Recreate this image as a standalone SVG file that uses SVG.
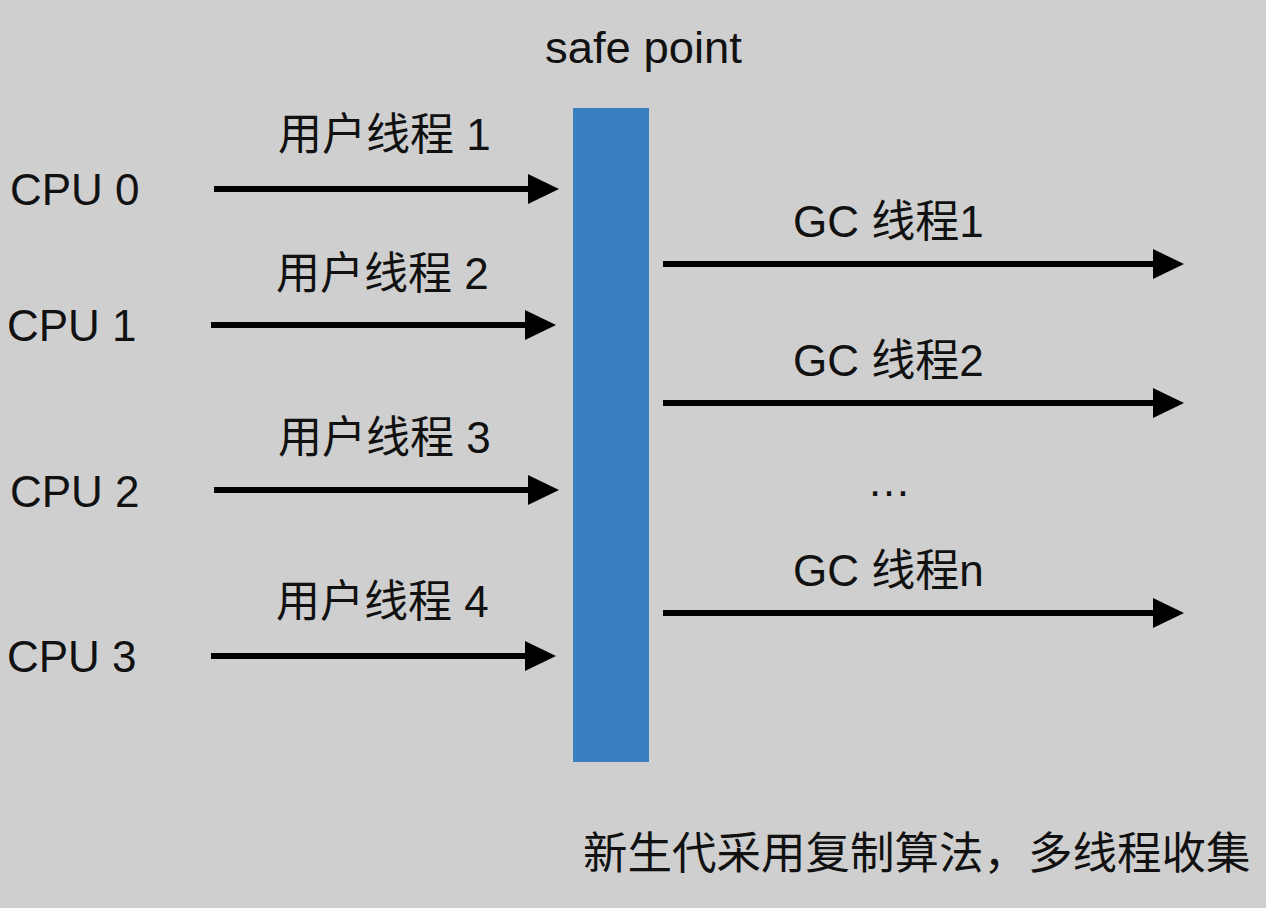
<svg xmlns="http://www.w3.org/2000/svg" width="1266" height="908" viewBox="0 0 1266 908">
<style>
.t{font-family:"Liberation Sans","Noto Sans CJK SC",sans-serif;font-size:44px;fill:#111}
.b{font-size:44.5px}
.c{stroke:#000;stroke-width:6;fill:none;marker-end:url(#ah)}
</style>
<defs>
<marker id="ah" markerUnits="userSpaceOnUse" markerWidth="32" markerHeight="32" refX="2" refY="15" orient="auto">
<path d="M0,0 L31,15 L0,30 Z" fill="#000"/>
</marker>
</defs>
<rect width="1266" height="908" fill="#cfcfcf"/>
<g id="safepoint">
<rect x="573" y="108" width="76" height="654" fill="#3a80c1"/>
<text class="t" x="545" y="63" textLength="197" lengthAdjust="spacingAndGlyphs">safe point</text>
</g>
<g id="cpu0"><text class="t" x="10" y="205">CPU 0</text></g>
<g id="cpu1"><text class="t" x="7" y="341">CPU 1</text></g>
<g id="cpu2"><text class="t" x="10" y="507">CPU 2</text></g>
<g id="cpu3"><text class="t" x="7" y="672">CPU 3</text></g>
<g id="connectors">
<line class="c" x1="214" y1="189" x2="530" y2="189"/>
<line class="c" x1="211" y1="325" x2="527" y2="325"/>
<line class="c" x1="214" y1="490" x2="530" y2="490"/>
<line class="c" x1="211" y1="656" x2="527" y2="656"/>
<line class="c" x1="663" y1="264" x2="1155" y2="264"/>
<line class="c" x1="663" y1="403" x2="1155" y2="403"/>
<line class="c" x1="663" y1="613" x2="1155" y2="613"/>
</g>
<g id="labels">
<text class="t" x="278" y="150">用户线程 1</text>
<text class="t" x="276" y="289">用户线程 2</text>
<text class="t" x="278" y="453">用户线程 3</text>
<text class="t" x="276" y="617">用户线程 4</text>
<text class="t" x="793" y="237">GC 线程1</text>
<text class="t" x="793" y="376">GC 线程2</text>
<text class="t" x="867" y="496">…</text>
<text class="t" x="793" y="586">GC 线程n</text>
</g>
<g id="caption">
<text class="t b" x="583" y="869">新生代采用复制算法，多线程收集</text>
</g>
</svg>
